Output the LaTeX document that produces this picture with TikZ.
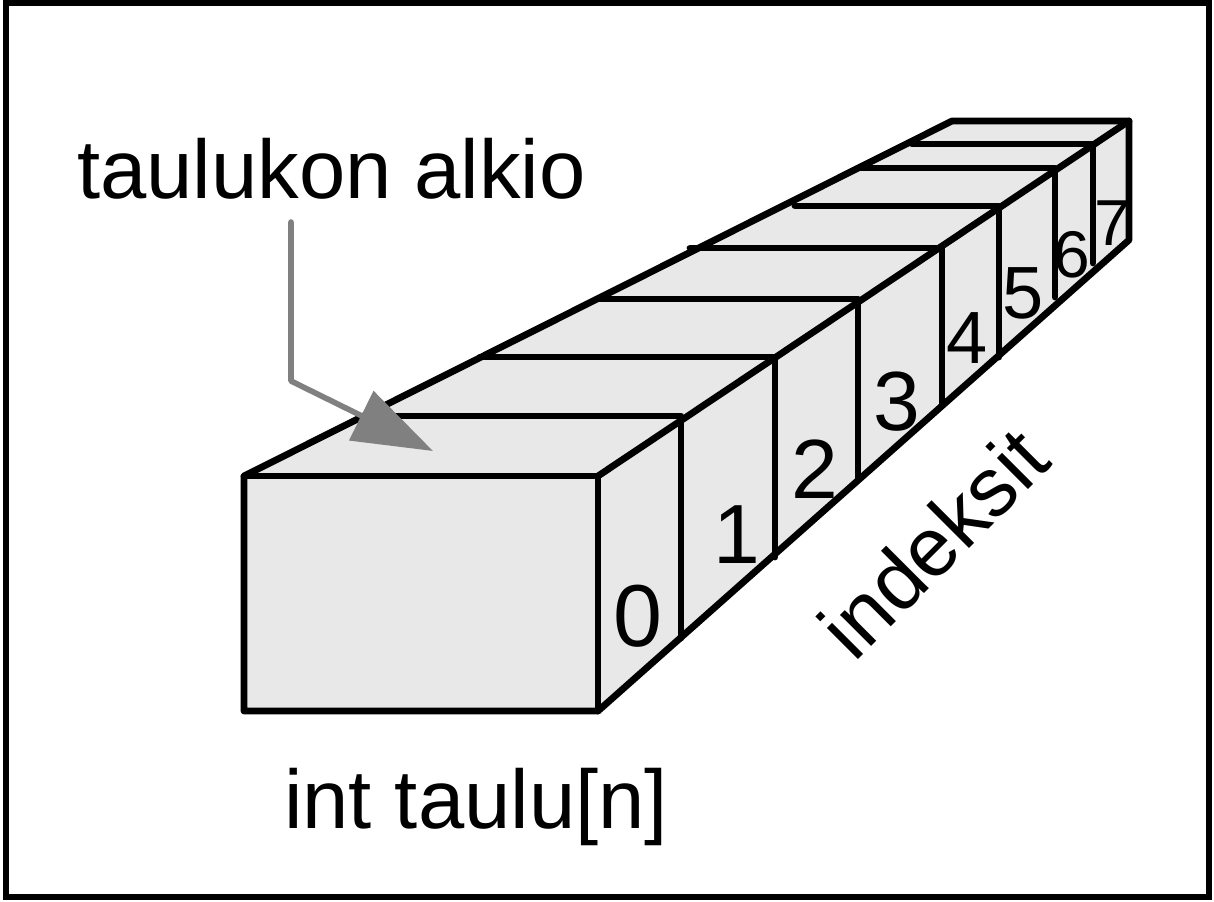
\documentclass[tikz,border=0pt]{standalone}
\usepackage{fontspec}
\setmainfont{Liberation Sans}
\usetikzlibrary{arrows.meta}
\definecolor{cellgray}{HTML}{E8E8E8}
\definecolor{pointer}{HTML}{808080}

\begin{document}
\begin{tikzpicture}[
  x=.5pt,y=-.5pt,
  edge/.style={line width=3.4pt,line join=round,line cap=round},
  arrow/.style={-{Triangle[length=40pt,width=27pt]},line width=2.8pt,pointer,line join=round,line cap=round},
  label/.style={inner sep=0pt,anchor=base,font=\fontsize{41.6}{41.6}\selectfont},
  digit/.style={inner sep=0pt,anchor=base}
]
  \useasboundingbox (0,0) rectangle (1214,901);
  \draw[line width=3pt] (5.5,3) rectangle (1208.5,897);

  % bar
  \coordinate (frontnw) at (244,476);
  \coordinate (frontne) at (598,476);
  \coordinate (frontse) at (598,711);
  \coordinate (frontsw) at (244,711);
  \coordinate (backnw) at (952,121);
  \coordinate (backne) at (1129,121);
  \coordinate (backse) at (1129,240);
  \filldraw[edge,fill=cellgray] (frontnw) -- (backnw) -- (backne) -- (backse) -- (frontse) -- (frontsw) -- cycle;
  \draw[edge] (frontnw) -- (frontne) -- (frontse);
  \draw[edge] (frontne) -- (backne);

  % cell borders
  \foreach \topx/\topy/\sidex/\sidey in {395/416/681/638,480/357/775/557,597/299/858/478,690/248/942/404,795/206/999/357,858/168/1055/297,912/144/1093/263}
    \draw[edge] (\topx,\topy) -- (\sidex,\topy) -- (\sidex,\sidey);

  % indices
  \foreach \name/\posx/\posy/\size in {0/638/646/44,1/737/563/42,2/815/498/42,3/897/430/42,4/967/363/37,5/1023/318/37,6/1072/277/33,7/1113/245/32.5}
    \node[digit,font=\fontsize{\size}{\size}\selectfont] (idx\name) at (\posx,\posy) {\name};

  \node[label] (element) at (331.5,198) {taulukon alkio};
  \node[label] (array) at (476,828) {int taulu[n]};
  \node[label,rotate=45] (indices) at (954,564) {indeksit};

  \coordinate (start) at (291,222);
  \coordinate (elbow) at (291,381);
  \coordinate (target) at (433,451);
  \draw[arrow] (start) -- (elbow) -- (target);
\end{tikzpicture}
\end{document}
